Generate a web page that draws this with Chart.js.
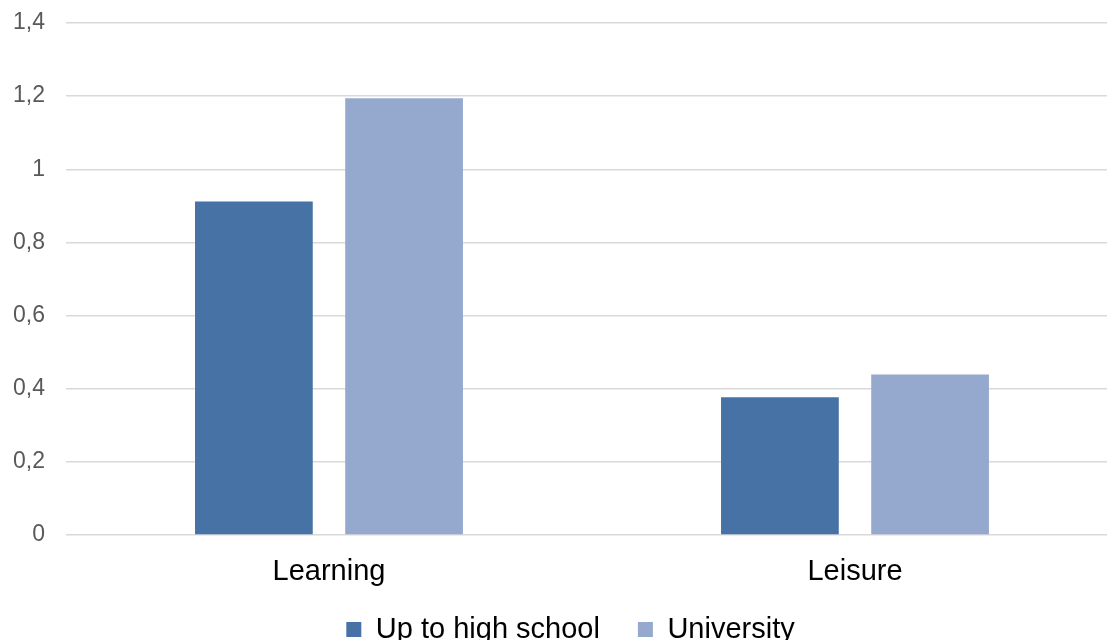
<!DOCTYPE html>
<html>
<head>
<meta charset="utf-8">
<script src="https://cdn.jsdelivr.net/npm/chart.js@4"></script>
<style>
  html, body { margin: 0; padding: 0; background: #fff; overflow: hidden; }
  #wrap { width: 1125px; height: 654px; position: relative; }
</style>
</head>
<body>
<div id="wrap"><canvas id="myChart"></canvas></div>
<script>
const categories = ['Learning', 'Leisure'];
const highSchool = [0.912, 0.377];
const university = [1.194, 0.439];
const yTicks = [0, 0.2, 0.4, 0.6, 0.8, 1, 1.2, 1.4];

const ctx = document.getElementById('myChart');

// x labels reach into the legend band: widen their clip box, and nudge the legend a bit right
const labelRoom = {
  id: 'labelRoom',
  afterLayout(chart) {
    const x = chart.scales.x;
    x.bottom = x.top + 70;
    chart.legend.left += 5;
    chart.legend.right += 5;
  }
};

new Chart(ctx, {
  type: 'bar',
  data: {
    labels: categories,
    datasets: [{
      label: 'Up to high school',
      data: highSchool,
      backgroundColor: '#4672a6'
    },
    {
      label: 'University',
      data: university,
      backgroundColor: '#95a9cf'
    }]
  },
  plugins: [labelRoom],
  options: {
    responsive: true,
    maintainAspectRatio: false,
    animation: false,
    categoryPercentage: 0.571,
    barPercentage: 0.784,
    layout: { padding: { left: 13, top: 23, right: 7, bottom: 0 } },
    plugins: {
      tooltip: { enabled: false },
      legend: {
        position: 'bottom',
        labels: {
          boxWidth: 15,
          boxHeight: 15,
          padding: 38,
          color: '#000',
          font: { family: 'Liberation Sans, Arial, sans-serif', size: 29 }
        }
      }
    },
    scales: {
      x: {
        grid: { display: false, drawTicks: false },
        border: { display: false },
        afterFit: axis => { axis.height = 42; },
        ticks: {
          color: '#000',
          padding: 20,
          font: { family: 'Liberation Sans, Arial, sans-serif', size: 29 }
        }
      },
      y: {
        min: 0,
        max: 1.4,
        afterBuildTicks: axis => { axis.ticks = yTicks.map(v => ({ value: v })); },
        grid: { color: '#d9d9d9', lineWidth: 1.5, drawTicks: true, tickLength: 21, tickColor: 'rgba(0,0,0,0)' },
        border: { display: false },
        ticks: {
          color: '#595959',
          padding: 0,
          font: { family: 'Liberation Sans, Arial, sans-serif', size: 23 },
          callback: v => String(Math.round(v * 10) / 10).replace('.', ',')
        }
      }
    }
  }
});
</script>
</body>
</html>
